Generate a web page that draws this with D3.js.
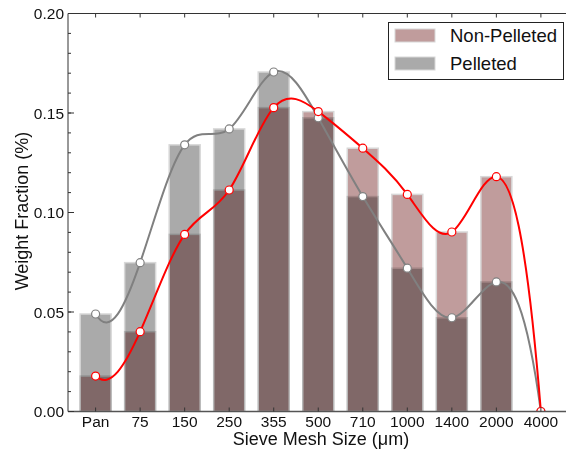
<!DOCTYPE html>
<meta charset="utf-8">
<style>
body { margin: 0; background: #fff; }
svg { display: block; font-family: "Liberation Sans", Arial, sans-serif; }
.bar { mix-blend-mode: multiply; }
</style>
<svg width="566" height="453"></svg>
<script src="https://cdn.jsdelivr.net/npm/d3@7"></script>
<script>

var sizes = ["Pan", "75", "150", "250", "355", "500", "710", "1000", "1400", "2000", "4000"];
var nonPelleted = [0.0178, 0.0401, 0.0890, 0.1113, 0.1527, 0.1507, 0.1323, 0.1091, 0.0902, 0.1180, 0];
var pelleted    = [0.0490, 0.0748, 0.1340, 0.1420, 0.1706, 0.1476, 0.1080, 0.0720, 0.0471, 0.0651, 0];
var yTicks = [0, 0.05, 0.10, 0.15, 0.20];

var svg = d3.select("svg"),
    plotLeft = 68, plotTop = 13.5, plotBottom = 411.5;

var x = d3.scalePoint().domain(sizes).range([plotLeft, 568.5]).padding(0.62);
var y = d3.scaleLinear().domain([0, 0.2]).range([plotBottom, plotTop]);
var barW = 31;

// cubic spline curve with not-a-knot ends, for d3.line
function NotAKnot(context) { this._context = context; }
NotAKnot.prototype = {
  areaStart: function() { this._line = 0; },
  areaEnd: function() { this._line = NaN; },
  lineStart: function() { this._x = []; this._y = []; },
  point: function(px, py) { this._x.push(+px); this._y.push(+py); },
  lineEnd: function() {
    var X = this._x, Y = this._y, n = X.length, c = this._context;
    if (!n) return;
    c.moveTo(X[0], Y[0]);
    if (n < 4) { for (var k = 1; k < n; k++) c.lineTo(X[k], Y[k]); return; }
    var h = [], i, j;
    for (i = 0; i < n - 1; i++) h.push(X[i + 1] - X[i]);
    var A = [], b = [];
    for (i = 0; i < n; i++) { A.push(new Array(n).fill(0)); b.push(0); }
    A[0][0] = -h[1]; A[0][1] = h[0] + h[1]; A[0][2] = -h[0];
    for (i = 1; i < n - 1; i++) {
      A[i][i - 1] = h[i - 1]; A[i][i] = 2 * (h[i - 1] + h[i]); A[i][i + 1] = h[i];
      b[i] = 6 * ((Y[i + 1] - Y[i]) / h[i] - (Y[i] - Y[i - 1]) / h[i - 1]);
    }
    A[n - 1][n - 3] = -h[n - 2]; A[n - 1][n - 2] = h[n - 3] + h[n - 2]; A[n - 1][n - 1] = -h[n - 3];
    for (i = 0; i < n; i++) {
      var p = i;
      for (j = i + 1; j < n; j++) if (Math.abs(A[j][i]) > Math.abs(A[p][i])) p = j;
      var t = A[i]; A[i] = A[p]; A[p] = t; t = b[i]; b[i] = b[p]; b[p] = t;
      for (j = i + 1; j < n; j++) {
        var f = A[j][i] / A[i][i];
        for (var k2 = i; k2 < n; k2++) A[j][k2] -= f * A[i][k2];
        b[j] -= f * b[i];
      }
    }
    var M = new Array(n).fill(0);
    for (i = n - 1; i >= 0; i--) {
      var s = b[i];
      for (j = i + 1; j < n; j++) s -= A[i][j] * M[j];
      M[i] = s / A[i][i];
    }
    for (i = 0; i < n - 1; i++) {
      var hi = h[i], d = (Y[i + 1] - Y[i]) / hi;
      var s0 = d - hi * (2 * M[i] + M[i + 1]) / 6,
          s1 = d + hi * (M[i] + 2 * M[i + 1]) / 6;
      c.bezierCurveTo(X[i] + hi / 3, Y[i] + s0 * hi / 3, X[i + 1] - hi / 3, Y[i + 1] - s1 * hi / 3, X[i + 1], Y[i + 1]);
    }
  }
};
function curveNotAKnot(context) { return new NotAKnot(context); }

svg.append("defs").append("clipPath").attr("id", "plot")
  .append("rect").attr("x", plotLeft).attr("y", plotTop)
  .attr("width", 566 - plotLeft).attr("height", plotBottom - plotTop);

var plot = svg.append("g").attr("clip-path", "url(#plot)").style("isolation", "isolate");

function bars(values, fill) {
  plot.append("g").selectAll("rect")
    .data(values)
    .enter().append("rect")
      .attr("class", "bar")
      .attr("x", function(d, i) { return x(sizes[i]) - barW / 2; })
      .attr("y", function(d) { return y(d); })
      .attr("width", barW)
      .attr("height", function(d) { return plotBottom - y(d); })
      .attr("fill", fill)
      .attr("stroke", "#d8d8d8")
      .attr("stroke-width", 1.5);
}
bars(nonPelleted, "#c09c9c");
bars(pelleted, "#aaaaaa");

function curve(values, color) {
  var line = d3.line()
    .x(function(d, i) { return x(sizes[i]); })
    .y(function(d) { return y(d); })
    .curve(curveNotAKnot);
  plot.append("path")
    .attr("d", line(values))
    .attr("fill", "none")
    .attr("stroke", color)
    .attr("stroke-width", 2);
}
function markers(values, color) {
  plot.append("g").selectAll("circle")
    .data(values)
    .enter().append("circle")
      .attr("cx", function(d, i) { return x(sizes[i]); })
      .attr("cy", function(d) { return y(d); })
      .attr("r", 4)
      .attr("fill", "#fff")
      .attr("stroke", color)
      .attr("stroke-width", 1.2);
}
curve(pelleted, "#808080");
curve(nonPelleted, "#ff0000");
markers(pelleted, "#808080");
markers(nonPelleted, "#ff0000");

// axes
var axisColor = "#333";
svg.append("line").attr("x1", plotLeft).attr("x2", 566).attr("y1", plotBottom).attr("y2", plotBottom)
  .attr("stroke", "#555").attr("stroke-width", 1.3);
svg.append("line").attr("x1", plotLeft).attr("x2", 566).attr("y1", plotTop).attr("y2", plotTop)
  .attr("stroke", axisColor).attr("stroke-width", 1);
svg.append("line").attr("x1", plotLeft).attr("x2", plotLeft).attr("y1", plotTop).attr("y2", plotBottom)
  .attr("stroke", axisColor).attr("stroke-width", 1);

var xt = svg.append("g");
sizes.forEach(function(s) {
  var cx = x(s);
  xt.append("line").attr("x1", cx).attr("x2", cx).attr("y1", plotBottom).attr("y2", plotBottom - 4).attr("stroke", axisColor);
  xt.append("line").attr("x1", cx).attr("x2", cx).attr("y1", plotTop).attr("y2", plotTop + 4).attr("stroke", axisColor);
  xt.append("text").attr("x", cx).attr("y", 427).attr("text-anchor", "middle")
    .attr("font-size", 15.5).attr("fill", "#111").text(s);
});

var yt = svg.append("g");
d3.range(0, 0.2001, 0.01).forEach(function(v) {
  yt.append("line").attr("x1", plotLeft).attr("x2", plotLeft + 3).attr("y1", y(v)).attr("y2", y(v)).attr("stroke", axisColor);
});
yTicks.forEach(function(v) {
  yt.append("line").attr("x1", plotLeft).attr("x2", plotLeft + 6).attr("y1", y(v)).attr("y2", y(v)).attr("stroke", axisColor);
  yt.append("text").attr("x", 64).attr("y", y(v)).attr("dy", "0.36em").attr("text-anchor", "end")
    .attr("font-size", 15.5).attr("fill", "#111").text(d3.format(".2f")(v));
});

svg.append("text").attr("x", 321).attr("y", 445).attr("text-anchor", "middle")
  .attr("font-size", 18).attr("fill", "#111").text("Sieve Mesh Size (\u03bcm)");
svg.append("text").attr("transform", "translate(28,211) rotate(-90)").attr("text-anchor", "middle")
  .attr("font-size", 18).attr("fill", "#111").text("Weight Fraction (%)");

// legend
var legend = svg.append("g");
legend.append("rect").attr("x", 388.5).attr("y", 22.5).attr("width", 175).attr("height", 57)
  .attr("fill", "#fff").attr("stroke", "#222").attr("stroke-width", 1);
var items = [["Non-Pelleted", "#c09c9c"], ["Pelleted", "#aaaaaa"]];
items.forEach(function(it, i) {
  legend.append("rect").attr("x", 395).attr("y", 29 + i * 28).attr("width", 40).attr("height", 13)
    .attr("fill", it[1]).attr("stroke", "#d8d8d8").attr("stroke-width", 1);
  legend.append("text").attr("x", 450).attr("y", 42 + i * 28)
    .attr("font-size", 18.5).attr("fill", "#111").text(it[0]);
});

</script>
